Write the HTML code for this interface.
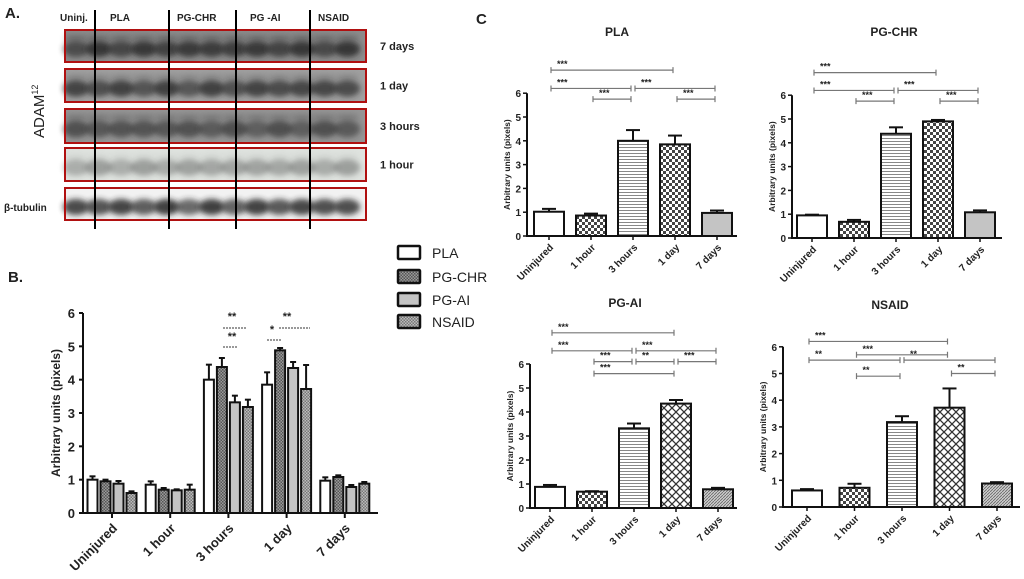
<!DOCTYPE html>
<html><head><meta charset="utf-8"><style>
html,body{margin:0;padding:0;background:#fff;}
svg{display:block;font-family:"Liberation Sans",sans-serif;}
text{font-weight:bold;fill:#222;}
</style></head><body>
<svg id="fig" width="1024" height="579" viewBox="0 0 1024 579">
<defs>
<pattern id="pDotDark" width="3" height="3" patternUnits="userSpaceOnUse"><rect width="3" height="3" fill="#9a9a9a"/><rect width="1.5" height="1.5" fill="#555"/><rect x="1.5" y="1.5" width="1.5" height="1.5" fill="#555"/></pattern>
<pattern id="pDotMid" width="3" height="3" patternUnits="userSpaceOnUse"><rect width="3" height="3" fill="#bbb"/><rect width="1.5" height="1.5" fill="#777"/><rect x="1.5" y="1.5" width="1.5" height="1.5" fill="#777"/></pattern>
<pattern id="pLight" width="3" height="3" patternUnits="userSpaceOnUse"><rect width="3" height="3" fill="#c4c4c4"/></pattern>
<pattern id="pCheck" width="6" height="6" patternUnits="userSpaceOnUse"><rect width="6" height="6" fill="#fff"/><rect width="3" height="3" fill="#444"/><rect x="3" y="3" width="3" height="3" fill="#444"/></pattern>
<pattern id="pHoriz" width="4" height="3" patternUnits="userSpaceOnUse"><rect width="4" height="3" fill="#fff"/><rect width="4" height="1" fill="#888"/></pattern>
<pattern id="pCross" width="8" height="8" patternUnits="userSpaceOnUse"><rect width="8" height="8" fill="#fff"/><path d="M0,0L8,8M8,0L0,8" stroke="#333" stroke-width="1.3"/></pattern>
<pattern id="pDiag" width="3" height="3" patternUnits="userSpaceOnUse"><rect width="3" height="3" fill="#ccc"/><path d="M0,3L3,0" stroke="#666" stroke-width="0.8"/></pattern>
<filter id="blur" x="-30%" y="-80%" width="160%" height="260%"><feGaussianBlur stdDeviation="3"/></filter>
</defs>
<g id="panelA"></g>
<g id="panelB"></g>
<g id="panelC"></g>
</svg>
<script>
// ---------- Panel B data ----------
const bCategories = ["Uninjured","1 hour","3 hours","1 day","7 days"];
const bSeriesNames = ["PLA","PG-CHR","PG-AI","NSAID"];
const bPLA   = [1.0, 0.85, 4.0, 3.85, 0.97];
const bPGCHR = [0.95, 0.7, 4.38, 4.88, 1.08];
const bPGAI  = [0.88, 0.68, 3.32, 4.35, 0.78];
const bNSAID = [0.6, 0.7, 3.18, 3.72, 0.88];
const bErrPLA   = [0.1, 0.1, 0.45, 0.37, 0.1];
const bErrPGCHR = [0.05, 0.05, 0.27, 0.07, 0.05];
const bErrPGAI  = [0.08, 0.03, 0.2, 0.18, 0.06];
const bErrNSAID = [0.05, 0.15, 0.22, 0.72, 0.05];
const bTicks = [0,1,2,3,4,5,6];

// ---------- Panel C data ----------
const cCategories = ["Uninjured","1 hour","3 hours","1 day","7 days"];
const cTicks = [0,1,2,3,4,5,6];
const plaValues = [1.02, 0.86, 4.0, 3.85, 0.97];
const plaErrors = [0.12, 0.08, 0.45, 0.37, 0.1];
const pgchrValues = [0.95, 0.68, 4.38, 4.9, 1.08];
const pgchrErrors = [0.03, 0.08, 0.27, 0.06, 0.08];
const pgaiValues = [0.88, 0.68, 3.32, 4.35, 0.78];
const pgaiErrors = [0.08, 0.02, 0.2, 0.15, 0.06];
const nsaidValues = [0.62, 0.72, 3.18, 3.72, 0.88];
const nsaidErrors = [0.05, 0.15, 0.22, 0.72, 0.05];
// brackets: [fromIndex, toIndex, level (data units), label]
const plaBrackets = [[0,3,6.97,"***"],[0,2,6.2,"***"],[2,4,6.2,"***"],[1,2,5.75,"***"],[3,4,5.75,"***"]];
const pgchrBrackets = [[0,3,6.95,"***"],[0,2,6.2,"***"],[2,4,6.2,"***"],[1,2,5.75,"***"],[3,4,5.75,"***"]];
const pgaiBrackets = [[0,3,7.3,"***"],[0,2,6.55,"***"],[2,4,6.55,"***"],[1,2,6.1,"***"],[2,3,6.1,"**"],[3,4,6.1,"***"],[1,3,5.6,"***"]];
const nsaidBrackets = [[0,3,6.2,"***"],[1,3,5.7,"***"],[0,2,5.5,"**"],[2,4,5.5,"**"],[1,2,4.9,"**"],[3,4,5.0,"**"]];

const NS = "http://www.w3.org/2000/svg";
function mk(parent, tag, attrs, text){
  const e = document.createElementNS(NS, tag);
  for (const k in attrs) e.setAttribute(k, attrs[k]);
  if (text !== undefined) e.textContent = text;
  parent.appendChild(e);
  return e;
}

// ---------- Panel A: blots ----------
(function(){
  const g = document.getElementById('panelA');
  let t = mk(g,'text',{x:5,y:18,'font-size':15},'A.');
  
  
  t = mk(g,'text',{x:476,y:24,'font-size':15},'C');
  
  
  const groups = [["Uninj.",60],["PLA",110],["PG-CHR",177],["PG -AI",250],["NSAID",318]];
  groups.forEach(gr=>{
    const e = mk(g,'text',{x:gr[1],y:21,'font-size':10},gr[0]);
    
    
  });
  const rows = [["7 days",30,62,0.8,0.5,'#8c8c8c'],["1 day",69,102,0.75,0.3,'#a0a0a0'],["3 hours",109,143,0.6,0.4,'#959595'],["1 hour",148,181,0.35,0.08,'#dfe3df'],["",188,220,0.85,0.0,'#f2f2f2']];
  rows.forEach((r,ri)=>{
    const rg = mk(g,'g',{});
    
    
    mk(rg,'rect',{x:65,y:r[1],width:301,height:r[2]-r[1],fill:r[5]});
    for(let l=0;l<13;l++){
      const cx = 76 + l*22.6;
      const cy = (r[1]+r[2])/2 + 3;
      const op = r[3]*(0.75+0.25*Math.abs(Math.sin(l*1.7+ri)));
      mk(rg,'ellipse',{cx:cx,cy:cy,rx:13,ry:(r[2]-r[1])*0.25,fill:'#222',opacity:op,filter:'url(#blur)'});
      if(r[4]>0) mk(rg,'ellipse',{cx:cx,cy:r[1]+8,rx:12,ry:3.5,fill:'#333',opacity:r[4]*0.6,filter:'url(#blur)'});
    }
    mk(rg,'rect',{x:65,y:r[1],width:301,height:r[2]-r[1],fill:'none',stroke:'#b01010','stroke-width':2});
    if(r[0]){
      const e = mk(g,'text',{x:380,y:(r[1]+r[2])/2+4,'font-size':11},r[0]);
      
      
    }
  });
  [95,169,236,310].forEach(x=>{
    const l = mk(g,'line',{x1:x,y1:10,x2:x,y2:229,stroke:'#000','stroke-width':2});
    
    
  });
  t = mk(g,'text',{x:0,y:0,'font-size':15,transform:'translate(44,138) rotate(-90)',style:'font-weight:normal'},'ADAM');
  
  
  mk(t,'tspan',{'font-size':9,dy:-6},'12');
  t = mk(g,'text',{x:4,y:211,'font-size':10},'β-tubulin');
  
  
})();

// ---------- Panel B ----------
(function(){
  const g = document.getElementById('panelB');
  const X0=83, Y0=513, Ytop=313, ymax=6, first=112, step=58.2, xEnd=378;
  const yS = v => Y0 - (v/ymax)*(Y0-Ytop);
  const xS = i => first + i*step;
  let t = mk(g,'text',{x:8,y:282,'font-size':15},'B.');
  
  
  const series = [bPLA,bPGCHR,bPGAI,bNSAID];
  const errs = [bErrPLA,bErrPGCHR,bErrPGAI,bErrNSAID];
  const fills = ['#fff','url(#pDotDark)','url(#pLight)','url(#pDotMid)'];
  const keys = ['pla','pg-chr','pg-ai','nsaid'];
  series.forEach((s,k)=>{
    s.forEach((v,i)=>{
      const cx = xS(i) + (k-1.5)*13;
      const top = yS(v), e = yS(v+errs[k][i]);
      const el = mk(g,'line',{x1:cx,y1:top,x2:cx,y2:e,stroke:'#111','stroke-width':2});
      
      
      mk(g,'line',{x1:cx-3,y1:e,x2:cx+3,y2:e,stroke:'#111','stroke-width':2});
      const r = mk(g,'rect',{x:cx-5,y:top,width:10,height:Y0-top,fill:fills[k],stroke:'#111','stroke-width':2});
      
      
    });
  });
  const ax = mk(g,'path',{d:'M'+X0+','+Ytop+' L'+X0+','+Y0+' L'+xEnd+','+Y0,fill:'none',stroke:'#111','stroke-width':2});
  
  
  bTicks.forEach(v=>{
    mk(g,'line',{x1:X0-4,y1:yS(v),x2:X0,y2:yS(v),stroke:'#111','stroke-width':2});
    const e = mk(g,'text',{x:X0-8,y:yS(v)+5,'font-size':13,'text-anchor':'end'},String(v));
    
    
  });
  bCategories.forEach((c,i)=>{
    mk(g,'line',{x1:xS(i),y1:Y0,x2:xS(i),y2:Y0+5,stroke:'#111','stroke-width':2});
    const e = mk(g,'text',{x:0,y:0,'font-size':13,'text-anchor':'end',transform:'translate('+(xS(i)+6)+','+(Y0+16)+') rotate(-45)'},c);
    
    
  });
  t = mk(g,'text',{x:0,y:0,'font-size':12,'text-anchor':'middle',transform:'translate(60,'+((Y0+Ytop)/2)+') rotate(-90)'},'Arbitrary units (pixels)');
  
  
  const sig = [[232,320,"**",223,247,328],[232,340,"**",223,238,347],[272,333,"*",267,282,340],[287,320,"**",279,310,328]];
  sig.forEach(s=>{
    const e = mk(g,'text',{x:s[0],y:s[1],'font-size':11,'text-anchor':'middle'},s[2]);
    
    
    mk(g,'line',{x1:s[3],y1:s[5],x2:s[4],y2:s[5],stroke:'#333','stroke-width':1,'stroke-dasharray':'2,1'});
  });
  const ly=[253,277,300,322];
  bSeriesNames.forEach((n,k)=>{
    const lg = mk(g,'g',{});
    
    
    mk(lg,'rect',{x:398,y:ly[k]-7,width:22,height:13,fill:fills[k],stroke:'#111','stroke-width':2.5,rx:1});
    mk(lg,'text',{x:432,y:ly[k]+5,'font-size':14,style:'font-weight:normal'},n);
  });
})();

// ---------- Panel C ----------
function drawC(cfg, values, errors, brackets){
  const root = document.getElementById('panelC');
  const g = mk(root,'g',{});
  
  
  const yS = v => cfg.y0 - v*cfg.unit;
  const xS = i => cfg.first + i*cfg.step;
  const fills = ['#fff','url(#pCheck)','url(#pHoriz)',cfg.fill3,cfg.fill4];
  let t = mk(g,'text',{x:cfg.titleX,y:cfg.titleY,'font-size':12,'text-anchor':'middle'},cfg.title);
  
  
  values.forEach((v,i)=>{
    const cx = xS(i), top = yS(v), e = yS(v+errors[i]);
    const el = mk(g,'line',{x1:cx,y1:top,x2:cx,y2:e,stroke:'#111','stroke-width':2});
    
    
    mk(g,'line',{x1:cx-7,y1:e,x2:cx+7,y2:e,stroke:'#111','stroke-width':2});
    const r = mk(g,'rect',{x:cx-15,y:top,width:30,height:cfg.y0-top,fill:fills[i],stroke:'#111','stroke-width':2});
    
    
  });
  const ax = mk(g,'path',{d:'M'+cfg.x0+','+yS(6)+' L'+cfg.x0+','+cfg.y0+' L'+cfg.xEnd+','+cfg.y0,fill:'none',stroke:'#111','stroke-width':2});
  
  
  cTicks.forEach(v=>{
    mk(g,'line',{x1:cfg.x0-4,y1:yS(v),x2:cfg.x0,y2:yS(v),stroke:'#111','stroke-width':1.5});
    const e = mk(g,'text',{x:cfg.x0-6,y:yS(v)+4,'font-size':10,'text-anchor':'end'},String(v));
    
    
  });
  cCategories.forEach((c,i)=>{
    mk(g,'line',{x1:xS(i),y1:cfg.y0,x2:xS(i),y2:cfg.y0+4,stroke:'#111','stroke-width':1.5});
    const e = mk(g,'text',{x:0,y:0,'font-size':10,'text-anchor':'end',transform:'translate('+(xS(i)+5)+','+(cfg.y0+12)+') rotate(-45)'},c);
    
    
  });
  t = mk(g,'text',{x:0,y:0,'font-size':8.5,'text-anchor':'middle',transform:'translate('+(cfg.x0-17)+','+yS(3)+') rotate(-90)'},'Arbitrary units (pixels)');
  
  
  brackets.forEach(b=>{
    const bg = mk(g,'g',{});
    
    
    const x1 = xS(b[0])+2, x2 = xS(b[1])-2, y = yS(b[2]);
    mk(bg,'path',{d:'M'+x1+','+(y-3)+'L'+x1+','+(y+3)+'M'+x1+','+y+'L'+x2+','+y+'M'+x2+','+(y-3)+'L'+x2+','+(y+3),stroke:'#777','stroke-width':1.2,fill:'none'});
    mk(bg,'text',{x:x1+6,y:y-3,'font-size':9},b[3]);
  });
}
drawC({name:'pla-chart',title:'PLA',titleX:617,titleY:36,x0:527,y0:236,unit:23.8,first:549,step:42,xEnd:737,fill3:'url(#pCheck)',fill4:'url(#pLight)'},plaValues,plaErrors,plaBrackets);
drawC({name:'pg-chr-chart',title:'PG-CHR',titleX:894,titleY:36,x0:792,y0:238,unit:23.8,first:812,step:42,xEnd:1002,fill3:'url(#pCheck)',fill4:'url(#pLight)'},pgchrValues,pgchrErrors,pgchrBrackets);
drawC({name:'pg-ai-chart',title:'PG-AI',titleX:625,titleY:307,x0:530,y0:508,unit:24,first:550,step:42,xEnd:737,fill3:'url(#pCross)',fill4:'url(#pDiag)'},pgaiValues,pgaiErrors,pgaiBrackets);
drawC({name:'nsaid-chart',title:'NSAID',titleX:890,titleY:309,x0:783,y0:507,unit:26.7,first:807,step:47.5,xEnd:1020,fill3:'url(#pCross)',fill4:'url(#pDiag)'},nsaidValues,nsaidErrors,nsaidBrackets);
</script>
</body></html>
